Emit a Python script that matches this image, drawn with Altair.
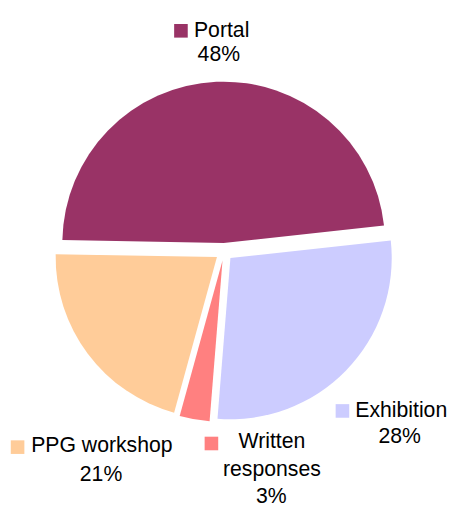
import math
import altair as alt
import pandas as pd

# ---- data ----
categories = ["Portal", "Exhibition", "Written responses", "PPG workshop"]
values = [48, 28, 3, 21]
colors = ["#993366", "#CCCCFF", "#FF8080", "#FFCC99"]

# ---- layout (pixels, chart coordinates) ----
CX, CY, R, EXPLODE = 219, 243.7, 163.5, 9
START = math.radians(271)
FONT = "Liberation Sans"
FS = 21.5

# label placement: square centre, name lines, percentage position
label_layout = {
    "Portal": {"sq": (175.3, 19.7), "lines": [("Portal", 188.5, 26, "left")], "pct": (213.7, 50.3)},
    "Exhibition": {"sq": (339, 405), "lines": [("Exhibition", 352, 411, "left")], "pct": (397, 437)},
    "Written responses": {"sq": (206.2, 438), "lines": [("Written", 267.5, 442.7, "center"),
                                                      ("responses", 267.5, 471, "center")], "pct": (267, 498)},
    "PPG workshop": {"sq": (9.7, 441.7), "lines": [("PPG workshop", 23.5, 447, "left")], "pct": (94.3, 476.3)},
}

pie_df = pd.DataFrame({"category": categories, "value": values, "order": list(range(len(values)))})

color_scale = alt.Scale(domain=categories, range=colors)

pie = (
    alt.Chart(pie_df)
    .transform_window(cum="sum(value)", sort=[alt.SortField("order")], frame=[None, 0])
    .transform_joinaggregate(total="sum(value)")
    .transform_calculate(
        a0=f"{START} + 2*PI*(datum.cum - datum.value)/datum.total",
        a1=f"{START} + 2*PI*datum.cum/datum.total",
    )
    .transform_calculate(mid="(datum.a0 + datum.a1)/2")
    .transform_calculate(
        px=f"{CX} + {EXPLODE}*sin(datum.mid)",
        py=f"{CY} - {EXPLODE}*cos(datum.mid)",
    )
    .mark_arc(radius=R, stroke=None)
    .encode(
        theta=alt.Theta("a0:Q", scale=None),
        theta2="a1:Q",
        x=alt.X("px:Q", scale=None),
        y=alt.Y("py:Q", scale=None),
        color=alt.Color("category:N", scale=color_scale, legend=None),
    )
)

sq_rows, left_rows, center_rows = [], [], []
for cat, v in zip(categories, values):
    lay = label_layout[cat]
    sq_rows.append({"category": cat, "x": lay["sq"][0], "y": lay["sq"][1]})
    for txt, x, y, al in lay["lines"]:
        (left_rows if al == "left" else center_rows).append({"text": txt, "x": x, "y": y})
    center_rows.append({"text": f"{v}%", "x": lay["pct"][0], "y": lay["pct"][1]})

squares = (
    alt.Chart(pd.DataFrame(sq_rows))
    .mark_square(size=190, opacity=1)
    .encode(
        x=alt.X("x:Q", scale=None),
        y=alt.Y("y:Q", scale=None),
        color=alt.Color("category:N", scale=color_scale, legend=None),
    )
)

left_text = (
    alt.Chart(pd.DataFrame(left_rows))
    .mark_text(align="left", baseline="alphabetic", font=FONT, fontSize=FS, color="#000000")
    .encode(x=alt.X("x:Q", scale=None), y=alt.Y("y:Q", scale=None), text="text:N")
)
center_text = (
    alt.Chart(pd.DataFrame(center_rows))
    .mark_text(align="center", baseline="alphabetic", font=FONT, fontSize=FS, color="#000000")
    .encode(x=alt.X("x:Q", scale=None), y=alt.Y("y:Q", scale=None), text="text:N")
)

chart = (
    alt.layer(pie, squares, left_text, center_text)
    .properties(width=440, height=491, padding=0)
    .configure_view(stroke=None)
)

chart.save("out.html", embed_options={"renderer": "svg", "actions": False})
